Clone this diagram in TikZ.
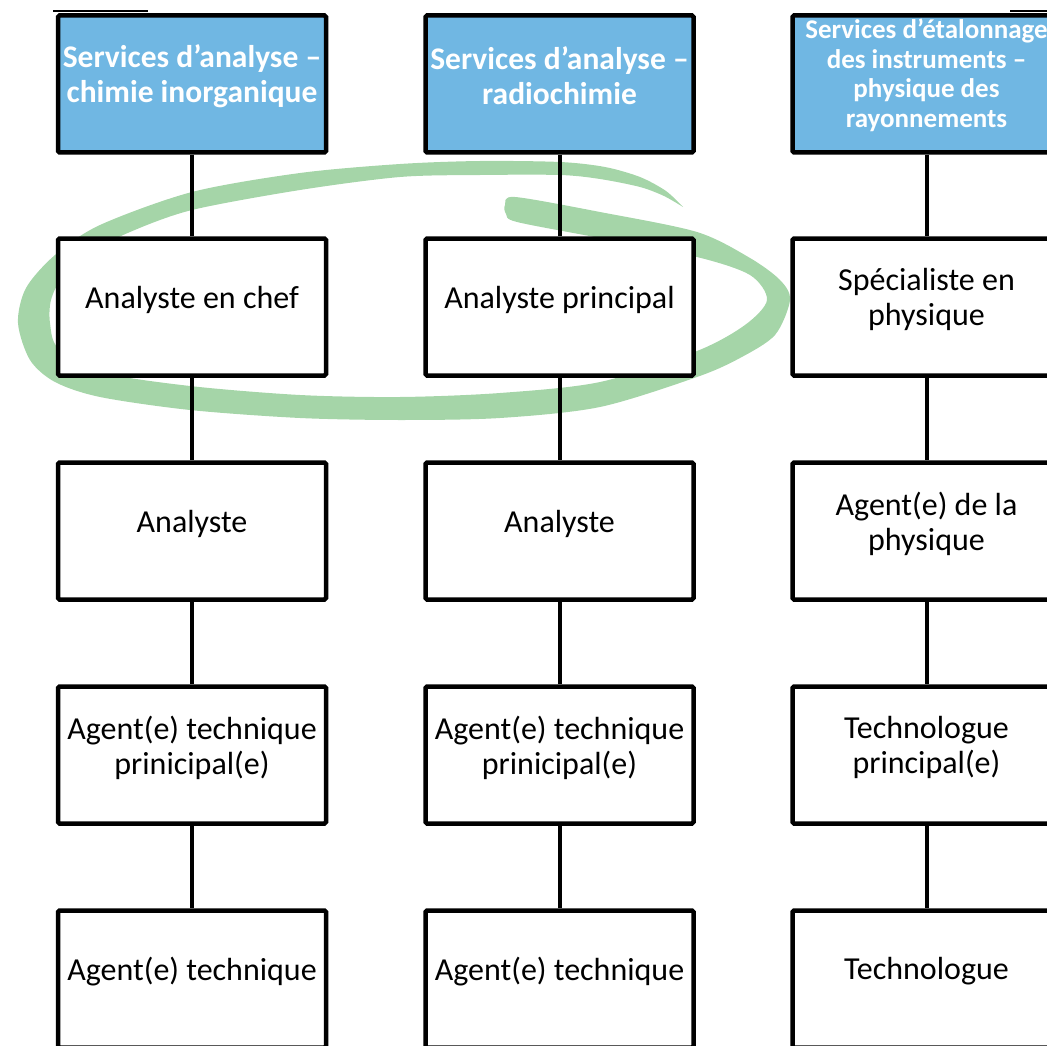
\documentclass[tikz,border=0pt]{standalone}
\usepackage{fontspec}
\setmainfont{Carlito}
\definecolor{headblue}{RGB}{112,183,227}
\definecolor{markgreen}{RGB}{165,213,168}
\begin{document}
\begin{tikzpicture}[x=1pt,y=-1pt,
  unitbox/.style={draw=black, line width=4.5pt, rounded corners=1.5pt, fill=white, minimum width=268pt, minimum height=137pt},
  headbox/.style={unitbox, fill=headblue},
  unittext/.style={align=center, inner sep=0pt, font=\fontsize{32}{35}\selectfont},
  headtext/.style={align=center, inner sep=0pt, text=white, font=\fontsize{31.5}{35}\selectfont\bfseries},
  link/.style={line width=4pt}]
\useasboundingbox (0,0) rectangle (1047,1046);
\clip (0,0) rectangle (1047,1046);
% hand-drawn ring round the second row
\fill[markgreen] plot[smooth, tension=0.5] coordinates {(683,207) (664,196) (640,187) (600,179) (560,175) (480,175) (400,177) (300,190) (192,210) (130,232) (90,253) (62,278) (51,300) (50,323) (58,348) (100,372) (190,386) (300,395) (400,397) (500,393) (600,382) (697,351) (745,325) (767,300) (750,275) (697,257) (600,238) (517,222) (506,214) (505,205) (515,197) (600,212) (697,232) (750,258) (780,280) (790,300) (775,335) (740,358) (697,377) (600,407) (500,418) (400,420) (300,418) (190,410) (100,397) (55,382) (30,360) (18,323) (26,288) (55,255) (100,225) (192,192) (300,173) (400,164) (480,161) (560,162) (605,167) (640,177) (666,191) (683,207)} -- cycle;
\draw[line width=2pt] (53,11) -- (148,11);
\draw[line width=2pt] (1010,11) -- (1047,11);
% heads
\node[headbox] (h1) at (192,84) {};
\node[headbox] (h2) at (559.5,84) {};
\node[headbox] (h3) at (926.5,84) {};
\node[headtext] (h1t) at ([yshift=8pt]h1.center) {Services d’analyse –\\chimie inorganique};
\node[headtext] (h2t) at ([yshift=8pt]h2.center) {Services d’analyse –\\radiochimie};
\node[headtext, font=\fontsize{27}{29.5}\selectfont\bfseries] (h3t) at ([yshift=8.5pt]h3.center) {Services d’étalonnage\\des instruments –\\physique des\\rayonnements};
% chimie inorganique
\node[unitbox] (ci2) at (192,307) {};
\node[unitbox] (ci3) at (192,531) {};
\node[unitbox] (ci4) at (192,755) {};
\node[unitbox] (ci5) at (192,979) {};
\node[unittext] (ci2t) at ([yshift=7.5pt]ci2.center) {Analyste en chef};
\node[unittext] (ci3t) at ([yshift=7.5pt]ci3.center) {Analyste};
\node[unittext] (ci4t) at ([yshift=7.5pt]ci4.center) {Agent(e) technique\\prinicipal(e)};
\node[unittext] (ci5t) at ([yshift=7.5pt]ci5.center) {Agent(e) technique};
% radiochimie
\node[unitbox] (rc2) at (559.5,307) {};
\node[unitbox] (rc3) at (559.5,531) {};
\node[unitbox] (rc4) at (559.5,755) {};
\node[unitbox] (rc5) at (559.5,979) {};
\node[unittext] (rc2t) at ([yshift=7.5pt]rc2.center) {Analyste principal};
\node[unittext] (rc3t) at ([yshift=7.5pt]rc3.center) {Analyste};
\node[unittext] (rc4t) at ([yshift=7.5pt]rc4.center) {Agent(e) technique\\prinicipal(e)};
\node[unittext] (rc5t) at ([yshift=7.5pt]rc5.center) {Agent(e) technique};
% physique des rayonnements
\node[unitbox] (ph2) at (926.5,307) {};
\node[unitbox] (ph3) at (926.5,531) {};
\node[unitbox] (ph4) at (926.5,755) {};
\node[unitbox] (ph5) at (926.5,979) {};
\node[unittext] (ph2t) at ([yshift=7.5pt]ph2.center) {Spécialiste en\\physique};
\node[unittext] (ph3t) at ([yshift=7.5pt]ph3.center) {Agent(e) de la\\physique};
\node[unittext] (ph4t) at ([yshift=7.5pt]ph4.center) {Technologue\\principal(e)};
\node[unittext] (ph5t) at ([yshift=7.5pt]ph5.center) {Technologue};
% links
\draw[link] (h1) -- (ci2);
\draw[link] (ci2) -- (ci3);
\draw[link] (ci3) -- (ci4);
\draw[link] (ci4) -- (ci5);
\draw[link] (h2) -- (rc2);
\draw[link] (rc2) -- (rc3);
\draw[link] (rc3) -- (rc4);
\draw[link] (rc4) -- (rc5);
\draw[link] (h3) -- (ph2);
\draw[link] (ph2) -- (ph3);
\draw[link] (ph3) -- (ph4);
\draw[link] (ph4) -- (ph5);
\end{tikzpicture}
\end{document}
